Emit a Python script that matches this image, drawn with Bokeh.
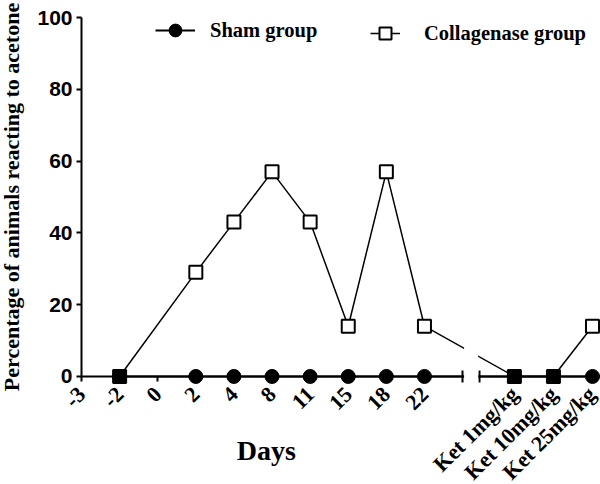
import math
from bokeh.plotting import figure
from bokeh.models import (FixedTicker, Legend, LegendItem, BoxAnnotation, Label,
                          ColumnDataSource)
from bokeh.embed import file_html
from bokeh.resources import INLINE

# ---- data ----
day_labels = ["-3", "-2", "0", "2", "4", "8", "11", "15", "18", "22"]
ket_labels = ["Ket 1mg/kg", "Ket 10mg/kg", "Ket 25mg/kg"]
y_ticks = [0, 20, 40, 60, 80, 100]

sham_cats = ["-2", "2", "4", "8", "11", "15", "18", "22",
             "Ket 1mg/kg", "Ket 10mg/kg", "Ket 25mg/kg"]
sham_vals = [0, 0, 0, 0, 0, 0, 0, 0, 0, 0, 0]

coll_cats = ["-2", "2", "4", "8", "11", "15", "18", "22",
             "Ket 1mg/kg", "Ket 10mg/kg", "Ket 25mg/kg"]
coll_vals = [0, 29, 43, 57, 43, 14, 57, 14, 0, 0, 14]

# ---- category positions (axis with a break) ----
pos = {lab: float(i) for i, lab in enumerate(day_labels)}
BREAK_L, BREAK_R = len(day_labels), len(day_labels) + 0.45
for i, lab in enumerate(ket_labels):
    pos[lab] = len(day_labels) + 1.36 + 1.025 * i

SERIF = "Liberation Serif"
SANS = "Liberation Sans"

p = figure(width=600, height=484, x_range=(-2.126, 13.62), y_range=(-30.1, 104.74),
           output_backend="svg", toolbar_location=None,
           min_border_left=0, min_border_right=0, min_border_top=0,
           min_border_bottom=0)
p.outline_line_color = None
p.xgrid.visible = False
p.ygrid.visible = False

# x axis (drawn at y = 0)
ax = p.xaxis[0]
ax.fixed_location = 0
ax.bounds = (0, 13.62)
all_labels = day_labels + ket_labels
ax.ticker = FixedTicker(ticks=[pos[l] for l in all_labels], minor_ticks=[BREAK_L, BREAK_R])
ax.major_label_overrides = {pos[l]: l for l in all_labels}
ax.major_label_orientation = math.pi / 4
ax.major_label_text_font = SERIF
ax.major_label_text_font_style = "bold"
ax.major_label_text_font_size = "22px"
ax.major_label_text_color = "black"
ax.major_label_standoff = 8
ax.axis_line_width = 2
ax.major_tick_line_width = 2
ax.major_tick_in = 0
ax.major_tick_out = 5
ax.minor_tick_in = 6
ax.minor_tick_out = 6
ax.minor_tick_line_width = 2

# y axis (drawn at x = 0)
ay = p.yaxis[0]
ay.fixed_location = 0
ay.bounds = (0, 100)
ay.ticker = FixedTicker(ticks=y_ticks)
ay.minor_tick_line_color = None
ay.major_label_text_font = SANS
ay.major_label_text_font_style = "bold"
ay.major_label_text_font_size = "21px"
ay.major_label_text_color = "black"
ay.major_label_standoff = 4
ay.axis_line_width = 2
ay.major_tick_line_width = 2
ay.major_tick_in = 0
ay.major_tick_out = 5

# ---- data glyphs ----
sham_lookup = dict(zip(sham_cats, sham_vals))
src_s = ColumnDataSource(dict(x=[pos[c] for c in sham_cats], y=sham_vals))
src_c = ColumnDataSource(dict(
    x=[pos[c] for c in coll_cats], y=coll_vals,
    fill=["black" if sham_lookup.get(c) == v else "white" for c, v in zip(coll_cats, coll_vals)]))

r_sl = p.line("x", "y", source=src_s, line_color="black", line_width=2)
r_cl = p.line("x", "y", source=src_c, line_color="black", line_width=1.5)
r_sc = p.scatter("x", "y", source=src_s, marker="circle", size=14,
                 fill_color="black", line_color="black")
r_cs = p.scatter("x", "y", source=src_c, marker="square", size=13,
                 fill_color="fill", line_color="black", line_width=2)

# axis break
p.add_layout(BoxAnnotation(left=BREAK_L + 0.04, right=BREAK_R - 0.04, bottom=-2.0, top=10,
                           fill_color="white", fill_alpha=1, line_color=None))

# ---- legends ----
common = dict(padding=0, margin=0, border_line_color=None, background_fill_alpha=0,
              label_text_font=SERIF, label_text_font_style="bold",
              label_text_font_size="20.5px", label_text_color="black", glyph_height=32)
leg1 = Legend(items=[LegendItem(label="Sham group", renderers=[r_sl, r_sc])],
              location=(155, 438), glyph_width=40, label_standoff=15, **common)
leg2 = Legend(items=[LegendItem(label="Collagenase group", renderers=[r_cl, r_cs], index=1)],
              location=(370, 435), glyph_width=30, label_standoff=24, **common)
p.add_layout(leg1)
p.add_layout(leg2)

# axis titles
p.add_layout(Label(x=4.85, y=-20.5, text="Days", text_align="center", text_baseline="middle",
                   text_font=SERIF, text_font_style="bold", text_font_size="28px",
                   text_color="black"))
p.add_layout(Label(x=-1.84, y=50, angle=math.pi / 2,
                   text="Percentage of animals reacting to acetone",
                   text_align="center", text_baseline="middle",
                   text_font=SERIF, text_font_style="bold", text_font_size="22px",
                   text_color="black"))

open("out.html", "w").write(file_html(p, INLINE))
